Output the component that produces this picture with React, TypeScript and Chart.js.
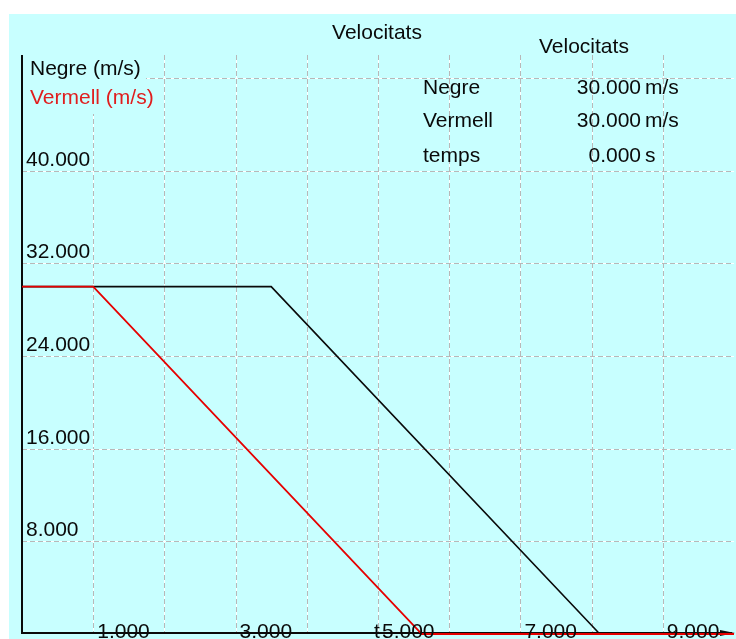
import React, { useEffect, useRef } from "react";
import { Chart, registerables } from "chart.js";

Chart.register(...registerables);

// ---- data ----
const negreTime = [0, 3.5, 8.115, 10];
const negreVel = [30, 30, 0, 0];
const vermellTime = [0, 1, 5.615, 10];
const vermellVel = [30, 30, 0, 0];

const xGridValues = [1, 2, 3, 4, 5, 6, 7, 8, 9];
const xTickValues = [1, 3, 5, 7, 9];
const yGridValues = [8, 16, 24, 32, 40, 48];
const yTickValues = [8, 16, 24, 32, 40];

const titleText = "Velocitats";
const panelTitle = "Velocitats";
const panelNames = ["Negre", "Vermell", "temps"];
const panelValues = ["30.000", "30.000", "0.000"];
const panelUnits = ["m/s", "m/s", "s"];
const negreAxisLabel = "Negre (m/s)";
const vermellAxisLabel = "Vermell (m/s)";
const xAxisLabel = "t";

const CYAN = "#c8ffff";
const RED = "#e60000";
const TEXT_RED = "#e01e1e";
const INK = "#0a0a0a";
const FONT = '21px "Liberation Sans", Arial, sans-serif';

const overlay = {
  id: "overlay",
  beforeDraw(chart: any) {
    const { ctx, width, height } = chart;
    ctx.save();
    ctx.fillStyle = CYAN;
    ctx.fillRect(0, 0, width, height);
    ctx.restore();
  },
  beforeDatasetsDraw(chart: any) {
    const { ctx, chartArea: a, scales } = chart;
    const xs = scales.x;
    const ys = scales.y;
    ctx.save();
    ctx.lineWidth = 1;
    const dashed = (x1: number, y1: number, x2: number, y2: number) => {
      ctx.setLineDash([]);
      ctx.strokeStyle = "#ffffff";
      ctx.beginPath();
      ctx.moveTo(x1, y1);
      ctx.lineTo(x2, y2);
      ctx.stroke();
      ctx.setLineDash([5, 3]);
      ctx.strokeStyle = "#b8b8b8";
      ctx.beginPath();
      ctx.moveTo(x1, y1);
      ctx.lineTo(x2, y2);
      ctx.stroke();
    };
    xGridValues.forEach((v) => {
      const px = Math.round(xs.getPixelForValue(v)) + 0.5;
      dashed(px, a.top, px, a.bottom);
    });
    yGridValues.forEach((v) => {
      const py = Math.round(ys.getPixelForValue(v)) + 0.5;
      dashed(a.left, py, a.right, py);
    });
    ctx.setLineDash([]);

    // boxes behind the axis legend labels
    ctx.fillStyle = CYAN;
    ctx.fillRect(a.left + 1, a.top, 123, 26);
    ctx.fillRect(a.left + 1, a.top + 26, 135, 33);

    ctx.font = FONT;
    ctx.textBaseline = "alphabetic";
    ctx.textAlign = "left";
    ctx.fillStyle = INK;
    ctx.fillText(negreAxisLabel, a.left + 8, a.top + 20);
    ctx.fillStyle = TEXT_RED;
    ctx.fillText(vermellAxisLabel, a.left + 8, a.top + 49);

    // y tick labels
    ctx.fillStyle = INK;
    yTickValues.forEach((v) => {
      const py = ys.getPixelForValue(v);
      ctx.fillText(v.toFixed(3), a.left + 4, py - 5);
    });

    // axes
    const x0 = xs.getPixelForValue(0);
    const y0 = ys.getPixelForValue(0);
    ctx.strokeStyle = INK;
    ctx.lineWidth = 2;
    ctx.beginPath();
    ctx.moveTo(x0, a.top);
    ctx.lineTo(x0, a.bottom);
    ctx.stroke();
    ctx.beginPath();
    ctx.moveTo(x0, y0 - 1);
    ctx.lineTo(a.right - 2, y0 - 1);
    ctx.stroke();
    ctx.fillStyle = INK;
    ctx.beginPath();
    ctx.moveTo(a.right + 1, y0 - 1);
    ctx.lineTo(a.right - 14, y0 - 4);
    ctx.lineTo(a.right - 14, y0 + 2);
    ctx.closePath();
    ctx.fill();

    // titles & panel
    ctx.fillStyle = INK;
    ctx.textAlign = "center";
    ctx.fillText(titleText, (a.left + a.right) / 2 - 1, 25);
    ctx.textAlign = "left";
    ctx.fillText(panelTitle, 530, 39);
    const rowBase = [80, 113, 148];
    panelNames.forEach((n, i) => {
      ctx.textAlign = "left";
      ctx.fillText(n, 414, rowBase[i]);
      ctx.textAlign = "right";
      ctx.fillText(panelValues[i], 632, rowBase[i]);
      ctx.textAlign = "left";
      ctx.fillText(panelUnits[i], 636, rowBase[i]);
    });
    ctx.restore();
  },
  afterDatasetsDraw(chart: any) {
    const { ctx, scales } = chart;
    const xs = scales.x;
    ctx.save();
    ctx.font = FONT;
    ctx.fillStyle = INK;
    ctx.textAlign = "left";
    ctx.textBaseline = "alphabetic";
    xTickValues.forEach((v) => {
      const px = xs.getPixelForValue(v);
      ctx.fillText(v.toFixed(3), px + 4, 624);
    });
    ctx.fillText(xAxisLabel, xs.getPixelForValue(5) - 4, 624);
    ctx.restore();
  },
};

export default function App() {
  const ref = useRef<HTMLCanvasElement | null>(null);
  useEffect(() => {
    if (!ref.current) return;
    const chart = new Chart(ref.current, {
      type: "line",
      data: {
        datasets: [
          {
            label: "Vermell",
            data: vermellTime.map((t, i) => ({ x: t, y: vermellVel[i] })),
            borderColor: RED,
            borderWidth: 1.8,
            pointRadius: 0,
            tension: 0,
            clip: false as any,
          },
          {
            label: "Negre",
            data: negreTime.map((t, i) => ({ x: t, y: negreVel[i] })),
            borderColor: INK,
            borderWidth: 1.6,
            pointRadius: 0,
            tension: 0,
            clip: false as any,
          },
        ],
      },
      options: {
        responsive: false,
        animation: false,
        events: [],
        layout: { padding: { left: 13, right: 2, top: 41, bottom: 5 } },
        scales: {
          x: { type: "linear", min: 0, max: 10, display: false },
          y: { type: "linear", min: 0, max: 50, display: false },
        },
        plugins: {
          legend: { display: false },
          tooltip: { enabled: false },
          title: { display: false },
        },
      },
      plugins: [overlay],
    });
    return () => chart.destroy();
  }, []);
  return (
    <div style={{ position: "absolute", left: 9, top: 14, width: 727, height: 625 }}>
      <canvas ref={ref} width={727} height={625} style={{ display: "block" }} />
    </div>
  );
}
